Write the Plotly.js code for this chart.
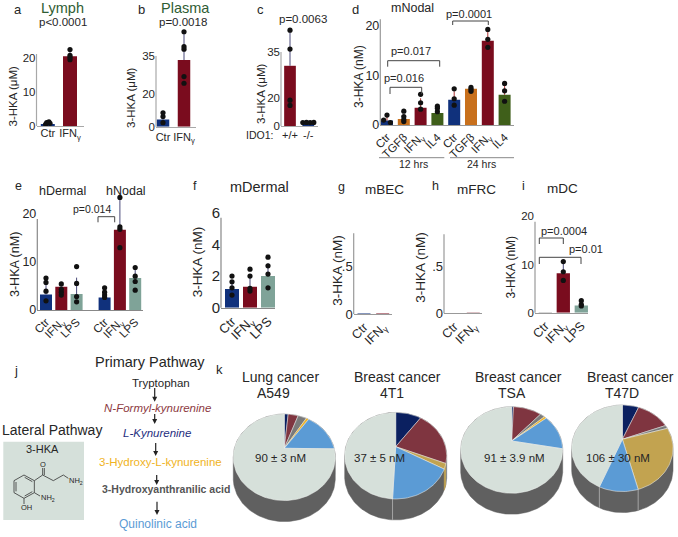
<!DOCTYPE html>
<html><head><meta charset="utf-8">
<script src="https://cdn.plot.ly/plotly-3.0.1.min.js"></script>
<style>html,body{margin:0;padding:0;background:#fff}#c{width:678px;height:537px}</style>
</head><body><div id="c"></div>
<script>
// ---------- data ----------
const NAVY='#10317c', MAROON='#7a0c1e', ORANGE='#c8701c', GREEN='#3f5f1a', TEAL='#7fa398';
const G='IFN<sub>γ</sub>';

const aCats=['Ctr',G], aBars=[0.6,20.5], aErr=[0.5,1.2];
const aPts=[[0.5,0.8,1.0,1.2],[19.5,20.2,20.8,22.5]];
const bCats=['Ctr',G], bBars=[3.6,33], bErr=[2.2,14];
const bPts=[[2,5,6.9],[21.5,24.8,38.4,39.6,47]];
const cCats=['+/+','-/-'], cBars=[28.4,2], cErr=[16,0.4];
const cPts=[[9.7,12.2,36.3,45.2],[1.6,1.7,1.6,1.7]];
const cJit=[[0,0,0,0],[-0.3,-0.1,0.1,0.3]];
const dCats=['Ctr','TGFβ',G,'IL4','Ctr','TGFβ',G,'IL4'];
const dBars=[0.9,1.2,3.5,2.4,5.1,7.3,17,6.1], dErr=[0.8,0.9,1.9,0.9,1.7,0.4,1.9,1.9];
const dPts=[[0.5,1,2],[0.7,1.1,1.7,2.8],[3.2,4.5,6.2],[2.7,3.4,3.8],[4,5.3,7.3],[6.8,7.2,7.6],[15.7,17.3,19.3],[4.8,6.9,8.4]];
const dJit=[[0.2,-0.2,0],[0,0,0,0],[0,0,0,0],[0,0,0],[0,0,0],[0,0,0],[0,0,0],[0,0,0]];
const eCats=['Ctr',G,'LPS','Ctr',G,'LPS'];
const eBars=[3.2,4.8,3.3,2.6,16.6,6.6], eErr=[2.1,1,3.4,0.9,6.7,2];
const ePts=[[1.9,3.9,5.7,6.6],[3.1,3.7,4.3,5.4],[1.7,2.8,5.5,9],[2.6,3.1,3.7,4.6],[12.9,16.7,17.2,23.3],[4.1,5.9,7,8.8]];
const fCats=['Ctr',G,'LPS'], fBars=[1.18,1.33,2.0], fErr=[0.55,0.65,0.8];
const fPts=[[0.8,1.26,1.64,2],[1.05,1.22,2,2.44],[1.26,2.13,2.65,3.2]];
const gCats=['Ctr',G], gBars=[0.004,0.005];
const hCats=['Ctr',G], hBars=[0.004,0.005];
const iCats=['Ctr',G,'LPS'], iBars=[0.05,8.2,1.5], iErr=[0,2,0.6];
const iPts=[[],[6.7,8.5,10.6],[1.4,1.7,2.5]];

const PNAVY='#0b2060',PMAR='#7f3540',PGRAY='#7a7a7a',PYEL='#f0b323',PBLUE='#5b9bd5',PPALE='#d6e0da',PGOLD='#c2a350';
const a549Share=[1.5,3.9,3.3,1,15.5,74.8], a549Colors=[PNAVY,PMAR,PGRAY,PYEL,PBLUE,PPALE];
const t41Share=[9.9,21.2,2,17.7,49.2],     t41Colors=[PNAVY,PMAR,PGOLD,PBLUE,PPALE];
const tsaShare=[0.7,10.9,1.8,0.9,13.6,72.1], tsaColors=[PNAVY,PMAR,PGRAY,PYEL,PBLUE,PPALE];
const t47Share=[6.4,12.8,1.3,25.4,10.2,43.9], t47Colors=[PNAVY,PMAR,PGRAY,PGOLD,PBLUE,PPALE];

// ---------- helpers ----------
const W=678,H=537;
const px=x=>x/W, py=y=>1-y/H;
const traces=[],annotations=[],shapes=[],layout={};
let axN=0;
function T(text,x,y,size,opt={}){
  annotations.push(Object.assign({text,x:px(x),y:py(y),xref:'paper',yref:'paper',showarrow:false,
    xanchor:'center',yanchor:'middle',font:{size,color:opt.color||'#262626',family:'Liberation Sans, Arial, sans-serif'}},
    opt.angle!==undefined?{textangle:opt.angle}:{}));
}
function L(x0,y0,x1,y1,color='#444',width=1){
  shapes.push({type:'line',xref:'paper',yref:'paper',x0:px(x0),y0:py(y0),x1:px(x1),y1:py(y1),line:{color,width}});
}
function bracket(x0,x1,y,yEnd){ L(x0,yEnd,x0,y); L(x0,y,x1,y); L(x1,y,x1,yEnd); }
function yTitle(text,x,y,size){ T(text,x,y,size,{angle:-90}); }

function panel(o){
  axN++;
  const xk='xaxis'+axN, yk='yaxis'+axN, xs='x'+axN, ys='y'+axN;
  const pos=o.cats.map((_,i)=> i+(o.gapAfter!==undefined&&i>o.gapAfter?o.gap:0));
  const lineC=o.lineColor||'#a8a8a8';
  layout[xk]={domain:[px(o.left),px(o.right)],range:[(o.left-o.c0)/o.step,(o.right-o.c0)/o.step],anchor:ys,
    showgrid:false,zeroline:false,showline:true,linecolor:lineC,linewidth:1,ticks:'',tickmode:'array',
    tickvals:pos,ticktext:o.cats,tickangle:o.angle||0,ticklabelstandoff:o.xStand||0,
    tickfont:{size:o.xFont||11,color:'#262626'}};
  // the plot area reaches higher than the drawn axis line, so dots above the line stay visible
  const plotTop=Math.max(o.top-40,1);
  const top=(o.bottom-plotTop)/o.ppu;
  layout[yk]={domain:[py(o.bottom),py(plotTop)],range:[0,top],anchor:xs,
    showgrid:false,zeroline:false,showline:false,ticks:'',tickmode:'array',
    tickvals:o.yVals,ticktext:o.yText,ticklabelstandoff:o.yStand||0,tickfont:{size:o.yFont||11,color:'#262626'}};
  L(o.left,o.top,o.left,o.bottom,lineC,1.2);
  traces.push({type:'bar',x:pos,y:o.bars,xaxis:xs,yaxis:ys,width:o.barW/o.step,cliponaxis:false,
    marker:{color:o.colors,line:{width:0}},hoverinfo:'skip',
    error_y:o.err?{type:'data',symmetric:false,array:o.err,arrayminus:o.err.map(()=>0),color:o.errColor||'#4a4a7a',thickness:1,width:0,visible:true}:{visible:false}});
  if(o.pts){
    const xx=[],yy=[];
    o.pts.forEach((list,i)=>list.forEach((v,j)=>{xx.push(pos[i]+(o.jit&&o.jit[i]?o.jit[i][j]:0));yy.push(v);}));
    traces.push({type:'scatter',mode:'markers',x:xx,y:yy,xaxis:xs,yaxis:ys,cliponaxis:false,hoverinfo:'skip',
      marker:{color:'#111',size:o.dot||5.2}});
  }
}

// ---------- top row ----------
panel({cats:aCats,bars:aBars,err:aErr,pts:aPts,colors:[NAVY,MAROON],left:36.5,right:84,c0:47.8,step:22.2,barW:14,
  top:54,bottom:126,ppu:3.4,yVals:[0,10,20],yText:['0','10','20'],xFont:11,yFont:11.5,xStand:-3,
  jit:[[-0.1,0.1,-0.05,0.05],[0,0,0,0]]});
panel({cats:bCats,bars:bBars,err:bErr,pts:bPts,colors:[NAVY,MAROON],left:156,right:196,c0:163,step:21,barW:12.5,
  top:56,bottom:126.7,ppu:2.02,yVals:[0,16,35],yText:['0','20','35'],xFont:11,yFont:11.5}); // the '20' label sits here in the reference
panel({cats:cCats,bars:cBars,err:cErr,pts:cPts,jit:cJit,colors:[MAROON,NAVY],left:281,right:318,c0:290,step:18.3,barW:11.7,
  top:52,bottom:126,ppu:2.12,yVals:[0,13,35],yText:['0','20','35'],xFont:11,yFont:11.5,xStand:-1}); // same for panel c
panel({cats:dCats,bars:dBars,err:dErr,pts:dPts,jit:dJit,colors:[NAVY,ORANGE,MAROON,GREEN,NAVY,ORANGE,MAROON,GREEN],
  left:380.3,right:514,c0:387,step:16.8,barW:12,top:19.3,bottom:125,ppu:4.95,yVals:[0,10,20],yText:['0','10','20'],
  angle:-45,xFont:11.5,yFont:12.5,lineColor:'#999',errColor:'#a33'});
// ---------- middle row ----------
panel({cats:eCats,bars:eBars,err:eErr,pts:ePts,colors:[NAVY,MAROON,TEAL,NAVY,MAROON,TEAL],gapAfter:2,gap:0.83,
  left:37.3,right:143,c0:46,step:15.3,barW:12,top:219,bottom:310,ppu:4.83,yVals:[0,10,20],yText:['0','10','20'],
  angle:-45,xFont:11.5,yFont:12.5,lineColor:'#888'});
panel({cats:fCats,bars:fBars,err:fErr,pts:fPts,colors:[NAVY,MAROON,TEAL],left:221,right:275,c0:232,step:18,barW:14,
  top:217.7,bottom:307.7,ppu:15.8,yVals:[0,2,4,6],yText:['0','2','4','6'],angle:-45,xFont:13,yFont:15,lineColor:'#888'});
panel({cats:gCats,bars:gBars,colors:[NAVY,MAROON],left:353.7,right:391.7,c0:364,step:18.7,barW:13,
  top:233.3,bottom:314,ppu:94.6,yVals:[0,0.5],yText:['0','.5'],angle:-45,xFont:12.5,yFont:13,lineColor:'#999'});
panel({cats:hCats,bars:hBars,colors:[NAVY,MAROON],left:444,right:481.7,c0:454.3,step:19,barW:13,
  top:234.3,bottom:313.3,ppu:94.6,yVals:[0,0.5],yText:['0','.5'],angle:-45,xFont:12.5,yFont:13,lineColor:'#999'});
panel({cats:iCats,bars:iBars,err:iErr,pts:iPts,colors:['#333',MAROON,TEAL],left:535,right:588.3,c0:545.3,step:18,barW:13.3,
  top:221.7,bottom:312.7,ppu:4.82,yVals:[0,10,20],yText:['0','10','20'],angle:-45,xFont:12.5,yFont:11.5,lineColor:'#999'});

// ---------- pies (slanted discs, built from the shares) ----------
const R=49.9,RK=41.4,P=0.208,DEPTH=21;
const proj=d=>{const t=d*Math.PI/180,u=Math.sin(t),v=Math.cos(t),w=1+P*v;return [R*u/w,RK*v/w,v];};
function pie(cx,cy,shares,colors){
  axN++;
  const xs='x'+axN,ys='y'+axN;
  const hw=56,up=38,dn=80;
  layout['xaxis'+axN]={domain:[px(cx-hw),px(cx+hw)],range:[-hw,hw],anchor:ys,visible:false,fixedrange:true};
  layout['yaxis'+axN]={domain:[py(cy+dn),py(cy-up)],range:[-dn,up],anchor:xs,visible:false,fixedrange:true};
  const base={type:'scatter',mode:'lines',xaxis:xs,yaxis:ys,hoverinfo:'skip',cliponaxis:false};
  const sx=[],sy=[];
  for(let d=0;d<=360;d+=2){const q=proj(d);sx.push(q[0]);sy.push(q[1]-(q[2]<-P?DEPTH:0));}
  traces.push(Object.assign({},base,{x:sx,y:sy,fill:'toself',fillcolor:'#606060',line:{color:'#606060',width:0.5}}));
  const total=shares.reduce((a,b)=>a+b,0);
  let acc=0;
  shares.forEach((s,i)=>{
    const a0=acc/total*360,a1=(acc+s)/total*360; acc+=s;
    const xx=[0],yy=[0],fx=[],fy=[];
    for(let d=a0;;d+=Math.min(2,Math.max(a1-d,0.01))){
      const q=proj(Math.min(d,a1));xx.push(q[0]);yy.push(q[1]);
      if(q[2]<-P){fx.push(q[0]);fy.push(q[1]);}
      if(d>=a1)break;
    }
    xx.push(0);yy.push(0);
    if(s<3&&fx.length>1){
      traces.push(Object.assign({},base,{x:fx.concat(fx.slice().reverse()),y:fy.concat(fy.slice().reverse().map(v=>v-DEPTH)),
        fill:'toself',fillcolor:colors[i],line:{color:colors[i],width:0.5}}));
    }
    traces.push(Object.assign({},base,{x:xx,y:yy,fill:'toself',fillcolor:colors[i],line:{color:'#f4f6f5',width:0.5}}));
    const e=proj(a1);
    if(e[2]<-P && i<shares.length-1 && s>=3){
      traces.push(Object.assign({},base,{x:[e[0],e[0]],y:[e[1],e[1]-DEPTH],line:{color:'#a4a4a4',width:1}}));
    }
  });
}
pie(284.3,448.3,a549Share,a549Colors);
pie(395.7,446.7,t41Share,t41Colors);
pie(511.7,441,tsaShare,tsaColors);
pie(622.7,439.3,t47Share,t47Colors);

// ---------- text ----------
const GR='#2f5d34';
T('a',18,10,13);T('b',141.7,10,13);T('c',260,10,13);T('d',355,10,13);
T('e',18,186,12.5);T('f',195,186,12.5);T('g',341,187,12.5);T('h',435,186,12.5);T('i',523,186,12.5);T('j',16,370,13);T('k',219,369,13);
T('Lymph',62,8.5,14.5,{color:GR});T('p<0.0001',63,22,11.5);
T('Plasma',185,7.5,14.5,{color:GR});T('p=0.0018',183,21.7,11.5);
T('p=0.0063',303,19.5,11.5);T('IDO1:',259.5,135,10.5);
yTitle('3-HKA (μM)',12.5,97,11.5);yTitle('3-HKA (μM)',131,98,11.5);yTitle('3-HKA (μM)',261,94,11.5);
T('mNodal',412.7,8,12.5);T('p=0.0001',469.3,14.3,11);T('p=0.017',411.3,50.7,11);T('p=0.016',404.3,77.7,11);
yTitle('3-HKA (nM)',358.3,76.7,12);
bracket(452.7,488.3,21,25);bracket(387.7,439.7,60.7,66.7);bracket(390,421.7,87.3,94);
L(379,157.7,444.3,157.7,'#888');L(450,157.7,514,157.7,'#888');
T('12 hrs',413.3,164,10.5);T('24 hrs',481.7,164,10.5);

T('hDermal',62.7,190.7,12.5);T('hNodal',125.7,190.7,12.5);T('p=0.014',92.3,209,10.5);
bracket(98,114.7,216.7,222.3);yTitle('3-HKA (nM)',15,265,12.5);
T('mDermal',259,187,14.5);yTitle('3-HKA (nM)',197.3,262,13.5);
T('mBEC',384.3,189.3,13.5);yTitle('3-HKA (nM)',336.7,270,13.5);
T('mFRC',476.7,189,13.5);yTitle('3-HKA (nM)',421,267.7,13.5);
T('mDC',562.3,188,13.5);yTitle('3-HKA (nM)',511.3,267.3,12);
T('p=0.0004',564.3,230.7,11);T('p=0.01',585.7,249,11);
bracket(539.3,563.3,238,244);bracket(539.3,581,257.3,264);

T('Primary Pathway',150,362,14.5);T('Lateral Pathway',52,430,14);
T('Tryptophan',161,383,11.5);
T('<i>N-Formyl-kynurenine</i>',157,407.7,11.5,{color:'#8d3a3f'});
T('<i>L-Kynurenine</i>',157,432.7,11.5,{color:'#1f2f80'});
T('3-Hydroxy-L-kynurenine',160.7,462,11.5,{color:'#f0b323'});
T('<b>3-Hydroxyanthranilic acid</b>',166,489,10.5,{color:'#555'});
T('Quinolinic acid',158,524,12,{color:'#5b9bd5'});
function arrow(x,y0,y1){
  L(x,y0,x,y1-3,'#222',1.2);
  shapes.push({type:'path',xref:'paper',yref:'paper',fillcolor:'#222',line:{width:0},
    path:`M${px(x-2.5)},${py(y1-5)}L${px(x)},${py(y1)}L${px(x+2.5)},${py(y1-5)}Z`});
}
arrow(154.7,388,401.7);arrow(154.7,414,424);arrow(155.7,443,456);arrow(156.7,475,485);arrow(157,501.7,515);

// molecule card
shapes.push({type:'rect',xref:'paper',yref:'paper',x0:px(3.3),x1:px(84),y0:py(520),y1:py(441.7),layer:'below',fillcolor:'#d5e0da',line:{width:0}});
T('3-HKA',42,449,11);
const mz=(x,y)=>[x/3,440+y/3];
function B(a,b,c,d){const p=mz(a,b),q=mz(c,d);L(p[0],p[1],q[0],q[1],'#333',0.8);}
B(42,122,72,105);B(72,105,103,122);B(103,122,103,158);B(103,158,72,175);B(72,175,42,158);B(42,158,42,122);
B(48,126,48,154);B(74,112,97,125);B(74,168,97,155);
B(103,122,128,105);B(128,105,128,84);B(133,105,133,84);B(128,105,160,122);B(160,122,190,105);B(190,105,205,115);
B(103,158,120,168);B(72,175,72,192);
T('O',42.7,464,7.5);T('NH<sub>2</sub>',76,481,7.5);T('NH<sub>2</sub>',48,497.5,7.5);T('OH',26,507.5,7.5);

T('Lung cancer',280,377,14);T('A549',273,393,14);
T('Breast cancer',398,377,14);T('4T1',391.7,393,14);
T('Breast cancer',518,377,14);T('TSA',512,393,14);
T('Breast cancer',630,377,14);T('T47D',621.7,393,14);
T('90 ± 3 nM',280,458,11.5);T('37 ± 5 nM',379,458,11.5);T('91 ± 3.9 nM',514,458,11.5);T('106 ± 30 nM',617.7,458,11.5);

Object.assign(layout,{width:W,height:H,margin:{l:0,r:0,t:0,b:0},paper_bgcolor:'#fff',plot_bgcolor:'rgba(0,0,0,0)',
  showlegend:false,font:{family:'Liberation Sans, Arial, sans-serif',color:'#262626'},annotations,shapes});
Plotly.newPlot('c',traces,layout,{displayModeBar:false,staticPlot:true});
</script></body></html>
